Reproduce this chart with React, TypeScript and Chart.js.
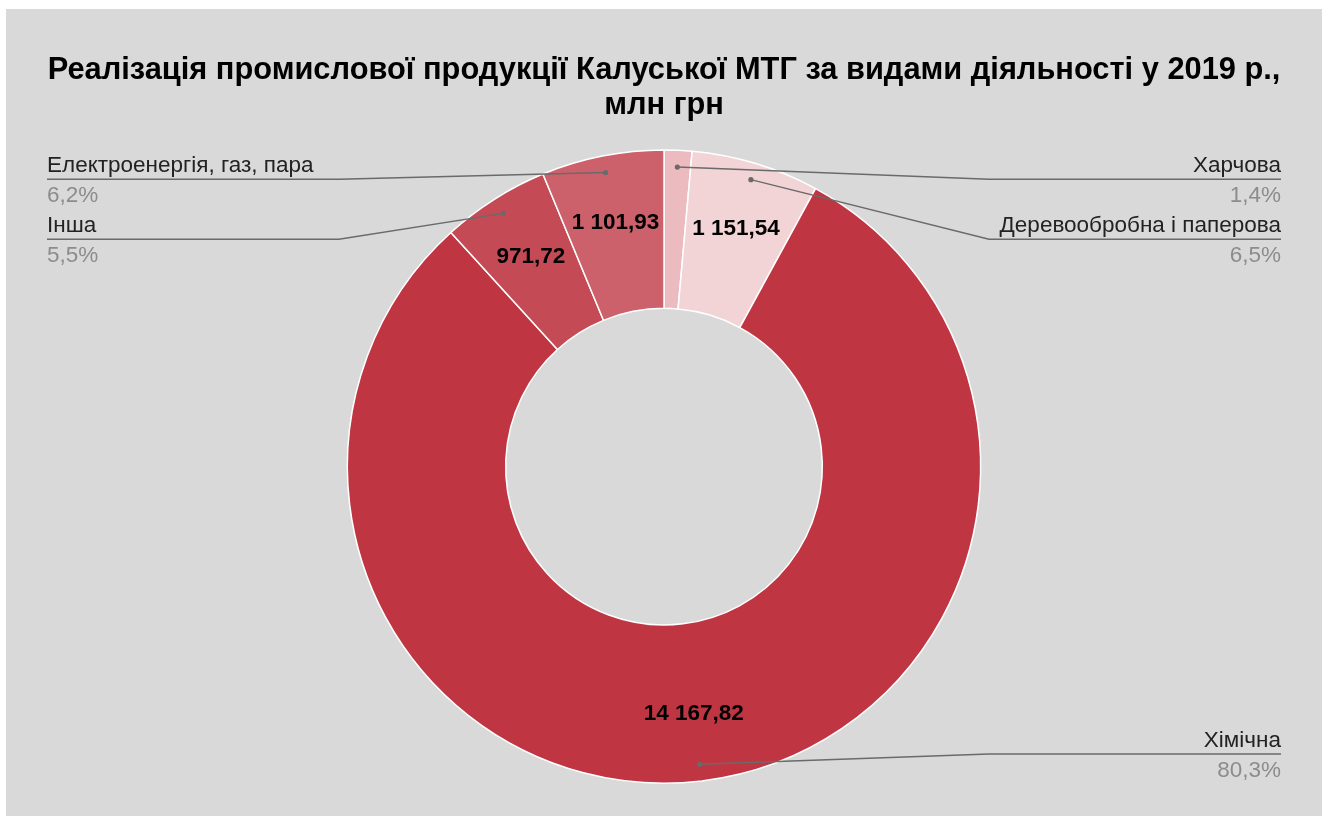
import React, { useEffect, useRef } from "react";
import { Chart, registerables } from "chart.js";

Chart.register(...registerables);

const categories = [
  "Харчова",
  "Деревообробна і паперова",
  "Хімічна",
  "Інша",
  "Електроенергія, газ, пара",
];
const values = [250, 1151.54, 14167.82, 971.72, 1101.93];
const colors = ["#ecbbc0", "#f2d3d6", "#bf3542", "#c44b55", "#cc616b"];
const titleLines = [
  "Реалізація промислової продукції Калуської МТГ за видами діяльності у 2019 р.,",
  "млн грн",
];

const FONT = "Arial, 'Liberation Sans', sans-serif";

function fmtValue(v: number): string {
  const [i, d] = v.toFixed(2).split(".");
  return i.replace(/\B(?=(\d{3})+(?!\d))/g, " ") + "," + d;
}
function fmtPct(p: number): string {
  return p.toFixed(1).replace(".", ",") + "%";
}

const calloutPlugin = {
  id: "callouts",
  afterDatasetsDraw(chart: any) {
    const ctx = chart.ctx as CanvasRenderingContext2D;
    const meta = chart.getDatasetMeta(0);
    const data = chart.data.datasets[0].data as number[];
    const total = data.reduce((a, b) => a + b, 0);
    const area = chart.chartArea;
    const W = chart.width;
    const items: any[] = [];
    meta.data.forEach((arc: any, i: number) => {
      const p = arc.getProps(["x", "y", "startAngle", "endAngle", "innerRadius", "outerRadius"], true);
      const mid = (p.startAngle + p.endAngle) / 2;
      const pct = (data[i] / total) * 100;
      if (pct >= 2) {
        const r = p.innerRadius + (p.outerRadius - p.innerRadius) * 0.57;
        ctx.save();
        ctx.font = `bold 22.5px ${FONT}`;
        ctx.fillStyle = "#000";
        ctx.textAlign = "center";
        ctx.textBaseline = "middle";
        ctx.fillText(fmtValue(data[i]), p.x + Math.cos(mid) * r, p.y + Math.sin(mid) * r);
        ctx.restore();
      }
      const dr = p.outerRadius * 0.947;
      const dx = p.x + Math.cos(mid) * dr;
      const dy = p.y + Math.sin(mid) * dr;
      items.push({ i, dx, dy, cx: p.x, side: Math.cos(mid) >= 0 ? 1 : -1, pct });
    });
    const topLimit = area.top + 30;
    const botLimit = area.bottom - 30;
    const gap = 60;
    [1, -1].forEach((side) => {
      const list = items.filter((it) => it.side === side).sort((a, b) => a.dy - b.dy);
      let prev = -Infinity;
      list.forEach((it) => {
        let y = Math.min(Math.max(it.dy, topLimit), botLimit);
        y = Math.max(y, prev + gap);
        it.ly = y;
        prev = y;
      });
    });
    items.forEach((it) => {
      const elbowX = it.cx + it.side * 325;
      const textX = it.side > 0 ? W - 41 : 41;
      ctx.save();
      ctx.strokeStyle = "#6a6a6a";
      ctx.lineWidth = 1.4;
      ctx.beginPath();
      ctx.moveTo(it.dx, it.dy);
      ctx.lineTo(elbowX, it.ly);
      ctx.lineTo(textX, it.ly);
      ctx.stroke();
      ctx.fillStyle = "#6a6a6a";
      ctx.beginPath();
      ctx.arc(it.dx, it.dy, 2.6, 0, Math.PI * 2);
      ctx.fill();
      ctx.textAlign = it.side > 0 ? "right" : "left";
      ctx.textBaseline = "alphabetic";
      ctx.font = `22.5px ${FONT}`;
      ctx.fillStyle = "#222222";
      ctx.fillText(categories[it.i], textX, it.ly - 7);
      ctx.fillStyle = "#8c8c8c";
      ctx.fillText(fmtPct(it.pct), textX, it.ly + 23);
      ctx.restore();
    });
  },
};

export default function App() {
  const ref = useRef<HTMLCanvasElement | null>(null);
  useEffect(() => {
    if (!ref.current) return;
    const chart = new Chart(ref.current, {
      type: "doughnut",
      data: {
        labels: categories,
        datasets: [
          {
            data: values,
            backgroundColor: colors,
            borderColor: "#ffffff",
            borderWidth: 1.5,
          },
        ],
      },
      options: {
        animation: false,
        responsive: true,
        maintainAspectRatio: false,
        cutout: "50%",
        layout: { padding: { top: 0, bottom: 32, left: 0, right: 0 } },
        plugins: {
          legend: { display: false },
          tooltip: { enabled: false },
          title: {
            display: true,
            text: titleLines,
            color: "#000000",
            font: { family: FONT, size: 30.8, weight: "bold", lineHeight: 1.14 },
            padding: { top: 44, bottom: 26 },
          },
        },
      },
      plugins: [calloutPlugin],
    });
    return () => chart.destroy();
  }, []);
  return (
    <div
      style={{
        position: "absolute",
        left: 6,
        top: 9,
        width: 1316,
        height: 807,
        background: "#d9d9d9",
      }}
    >
      <canvas ref={ref} />
    </div>
  );
}
